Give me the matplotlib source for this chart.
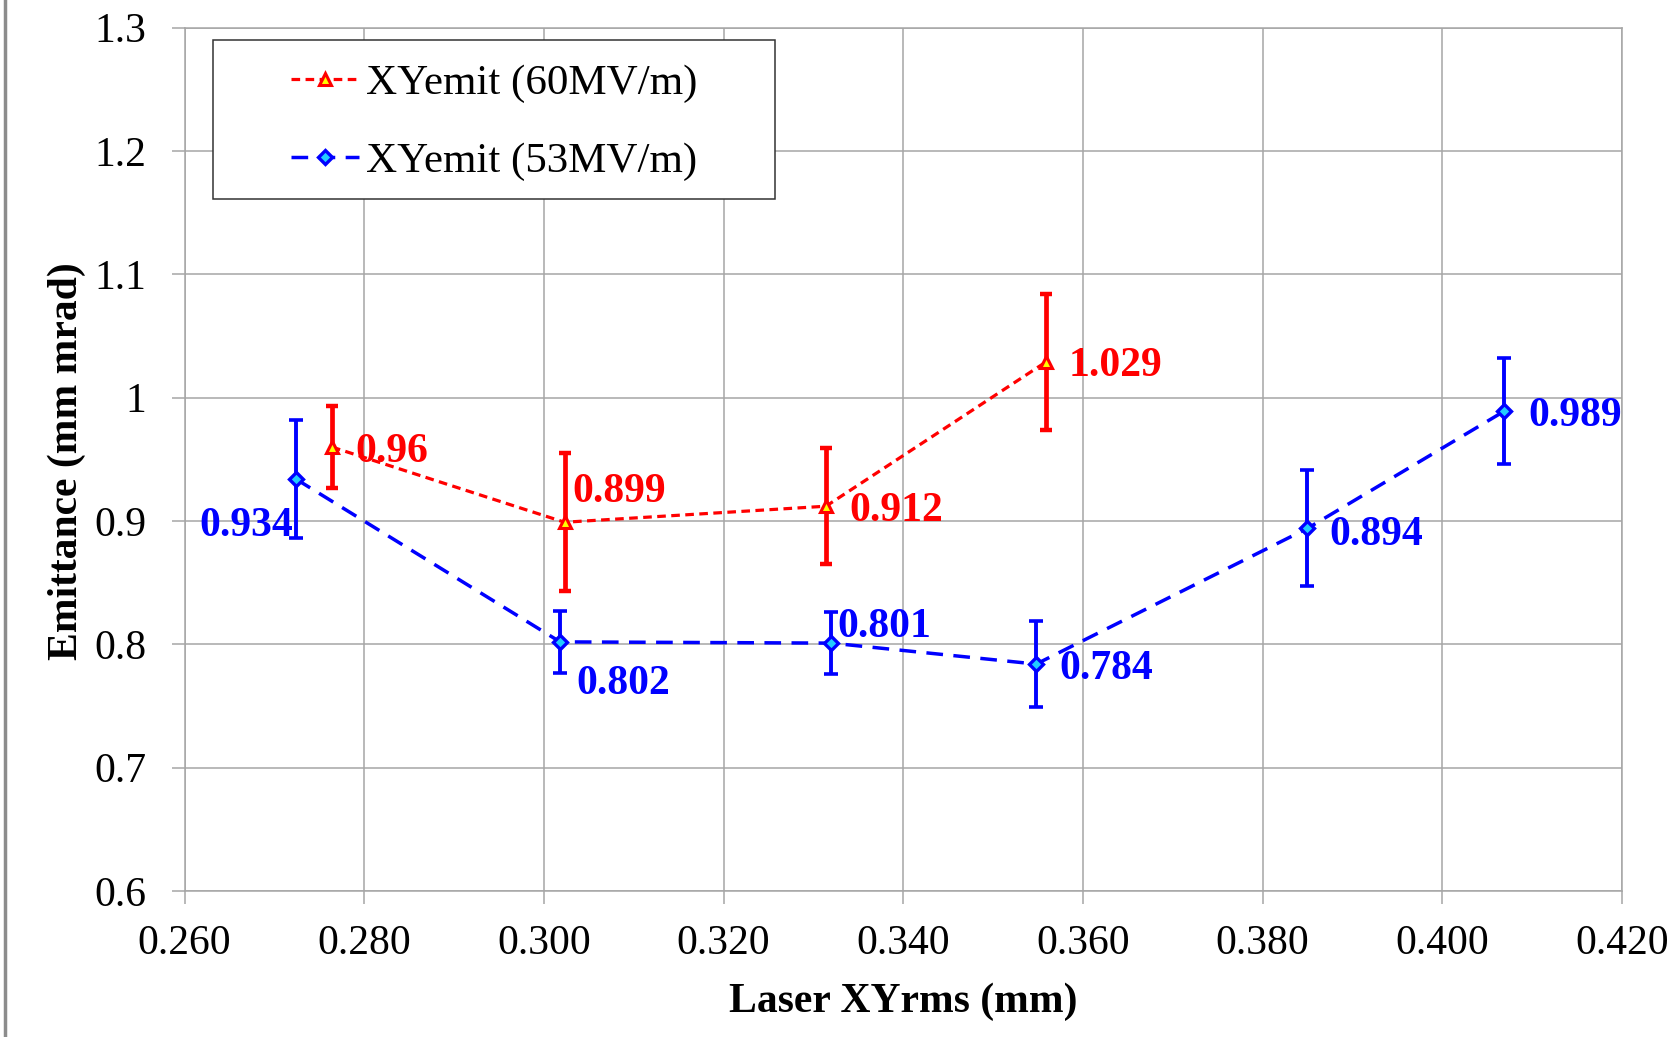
import matplotlib
matplotlib.use("Agg")
import matplotlib.pyplot as plt
from matplotlib.patches import Rectangle
from matplotlib.lines import Line2D
import numpy as np

# ---- data ----
x60 = [0.2764, 0.3023, 0.3314, 0.3559]
y60 = [0.96, 0.899, 0.912, 1.029]
e60 = [0.033, 0.056, 0.047, 0.055]
lab60 = ["0.96", "0.899", "0.912", "1.029"]

x53 = [0.2724, 0.3018, 0.3320, 0.3548, 0.3850, 0.4069]
y53 = [0.934, 0.802, 0.801, 0.784, 0.894, 0.989]
e53 = [0.048, 0.025, 0.025, 0.035, 0.047, 0.043]
lab53 = ["0.934", "0.802", "0.801", "0.784", "0.894", "0.989"]

xticks = [0.26, 0.28, 0.30, 0.32, 0.34, 0.36, 0.38, 0.40, 0.42]
xticklabels = ["0.260", "0.280", "0.300", "0.320", "0.340", "0.360", "0.380", "0.400", "0.420"]
yticks = [0.6, 0.7, 0.8, 0.9, 1.0, 1.1, 1.2, 1.3]
yticklabels = ["0.6", "0.7", "0.8", "0.9", "1", "1.1", "1.2", "1.3"]

name60 = "XYemit (60MV/m)"
name53 = "XYemit (53MV/m)"
xlabel = "Laser XYrms (mm)"
ylabel = "Emittance (mm mrad)"

# label offsets in pixels (dx, dy up), alignment
off60 = [(23, 0, "left"), (8, 35, "left"), (23, 0, "left"), (23, 0, "left")]
off53 = [(-3, -42, "right"), (16, -38, "left"), (6, 21, "left"),
         (23, 0, "left"), (22, -2, "left"), (24, 0, "left")]

plt.rcParams["font.family"] = ["Liberation Serif", "DejaVu Serif"]

W, H = 1673, 1037
fig = plt.figure(figsize=(W / 100, H / 100), dpi=100)
ax = fig.add_axes([184.6 / W, 1 - 891 / H, 1437.2 / W, 863.3 / H])

gridc = "#a6a6a6"
RED = "#FF0000"
BLUE = "#0000FF"

ax.set_xlim(0.26, 0.42)
ax.set_ylim(0.6, 1.3)
ax.set_xticks(xticks)
ax.set_xticklabels(xticklabels)
ax.set_yticks(yticks)
ax.set_yticklabels(yticklabels)
ax.grid(True, color=gridc, lw=1.1, zorder=0)
ax.set_axisbelow(True)
for s in ax.spines.values():
    s.set_color(gridc)
    s.set_linewidth(1.1)
ax.tick_params(axis="both", length=9.4, width=1.1, color=gridc, labelsize=30)
ax.tick_params(axis="x", pad=15)
ax.tick_params(axis="y", pad=18)

# error bars
ax.errorbar(x53, y53, yerr=e53, fmt="none", ecolor=BLUE, elinewidth=2.8,
            capsize=5, capthick=2.6, zorder=3)
ax.errorbar(x60, y60, yerr=e60, fmt="none", ecolor=RED, elinewidth=3.4,
            capsize=4.5, capthick=3.2, zorder=4)

# lines
l53, = ax.plot(x53, y53, color=BLUE, lw=2.5, dashes=(4.8, 3.0), marker="D",
               ms=7.5, mew=2.4, mec=BLUE, mfc="#22CCFF", zorder=5, label=name53)
l60, = ax.plot(x60, y60, color=RED, lw=2.3, dashes=(2.7, 1.7), marker="^",
               ms=8.5, mew=2.2, mec=RED, mfc="#FFFF00", zorder=6, label=name60)

# data labels
for xi, yi, t, (dx, dy, ha) in zip(x60, y60, lab60, off60):
    ax.annotate(t, (xi, yi), xytext=(dx, dy - 4.5), textcoords="offset pixels",
                ha=ha, va="center", color=RED, fontsize=30, fontweight="bold",
                zorder=7)
for xi, yi, t, (dx, dy, ha) in zip(x53, y53, lab53, off53):
    ax.annotate(t, (xi, yi), xytext=(dx, dy - 4.5), textcoords="offset pixels",
                ha=ha, va="center", color=BLUE, fontsize=30, fontweight="bold",
                zorder=7)

ax.set_xlabel(xlabel, fontsize=30, fontweight="bold", va="center")
ax.xaxis.set_label_coords(0.5, -0.1286)
ax.set_ylabel(ylabel, fontsize=30, fontweight="bold", va="center")
ax.yaxis.set_label_coords(-0.0818, 0.498)

# legend frame and legend
rect = Rectangle((0.01955, 0.801), 0.3913, 0.1853, transform=ax.transAxes,
                 facecolor="white", edgecolor="#333333", lw=1.1, zorder=8)
ax.add_patch(rect)
leg = ax.legend(handles=[l60, l53], loc="center left",
                bbox_to_anchor=((290.5 - 184.6) / 1437.2, 0.8900), frameon=False,
                fontsize=31, borderpad=0, borderaxespad=0, handlelength=1.6,
                handletextpad=0.16, labelspacing=0.9, numpoints=1)
leg.set_zorder(9)

# figure left border
fig.add_artist(Line2D([5.3 / W, 5.3 / W], [0, 1], transform=fig.transFigure,
                      color="#8c8c8c", lw=2.5))

fig.savefig("out.png", dpi=100)
